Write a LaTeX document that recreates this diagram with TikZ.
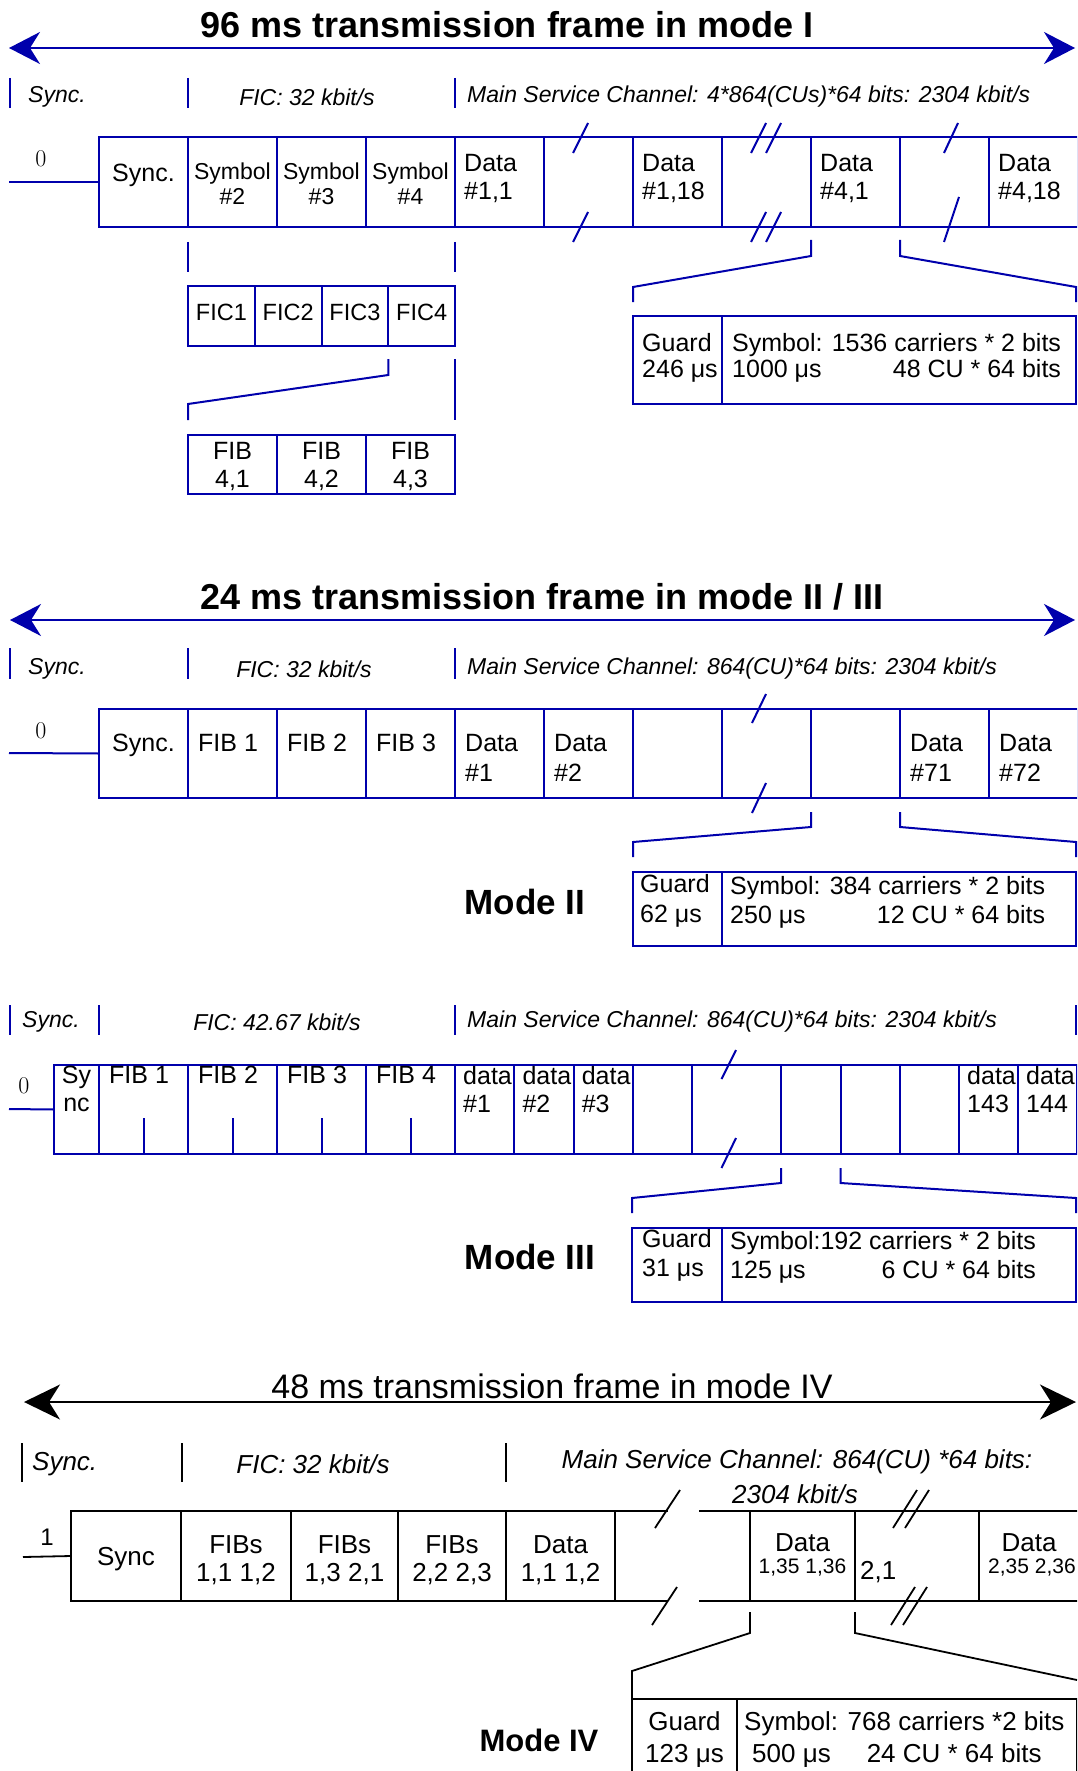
\documentclass[tikz,border=0pt]{standalone}
\usepackage{fontspec}
\newfontfamily\arialfont{Liberation Sans}
\usetikzlibrary{positioning,calc,arrows.meta}
\definecolor{dabblue}{RGB}{0,0,172}

\begin{document}
\begin{tikzpicture}[
    x=1pt, y=-1pt,
    blue_line/.style={draw=dabblue,line width=2pt},
    black_line/.style={draw=black,line width=1.8pt},
    blue_tip/.style={arrows={Stealth[length=31pt,width=32pt,inset=10pt]-Stealth[length=31pt,width=32pt,inset=10pt]}},
    black_tip/.style={arrows={Stealth[length=36pt,width=35pt,inset=11pt]-Stealth[length=36pt,width=35pt,inset=11pt]}},
    cell_box/.style={rectangle,inner sep=0pt,outer sep=0pt,anchor=north west},
    cell_txt/.style={inner sep=0pt,align=left,font=\arialfont\fontsize{25}{28}\selectfont},
    sym_txt/.style={inner sep=0pt,align=center,font=\arialfont\fontsize{23}{25}\selectfont},
    big_txt/.style={inner sep=0pt,align=center,font=\arialfont\fontsize{26}{28}\selectfont},
    small_txt/.style={inner sep=0pt,font=\arialfont\fontsize{21}{24}\selectfont},
    ital_txt/.style={inner sep=0pt,font=\arialfont\itshape\fontsize{23}{26}\selectfont},
    ital_big/.style={inner sep=0pt,font=\arialfont\itshape\fontsize{26}{30}\selectfont},
    title_txt/.style={inner sep=0pt,anchor=base,font=\arialfont\bfseries\fontsize{36}{40}\selectfont},
    mode_txt/.style={inner sep=0pt,font=\arialfont\bfseries\fontsize{35}{40}\selectfont},
    zero_txt/.style={inner sep=0pt,font=\fontsize{24}{28}\selectfont}
]
\useasboundingbox (0,0) rectangle (1077,1771);
\clip (0,0) rectangle (1077,1771);

% ===== Mode I =====
\node[title_txt] (title_one) at (507,38) {96 ms transmission frame in mode I};
\coordinate (one_l) at (9,48);
\coordinate (one_r) at (1075,48);
\draw[blue_line,blue_tip] (one_l) -- (one_r);

% rates
\foreach \x in {10,188,455}
    \draw[blue_line] (\x,78) -- (\x,108);
\node[ital_txt,anchor=west] (sync_one) at (28,97) {Sync.};
\node[ital_txt] (fic_one) at (307,97) {FIC: 32 kbit/s};
\node[ital_txt,anchor=west] (msc_one) at (467,97) {Main Service Channel: 4*864(CUs)*64 bits: 2304 kbit/s};

% frame
\node[zero_txt] (zero_one) at (41,159) {0};
\foreach \i in {0,...,10}
    \node[cell_box,blue_line,minimum width=89pt,minimum height=90pt] (a\i) at ({99+89*\i},137) {};
\coordinate (start_one) at (9,182);
\draw[blue_line] (start_one) -- (a0.west);
\node[cell_txt,anchor=north] (la0) at ([yshift=-27pt]a0.north) {Sync.};
\foreach \i/\num in {1/2,2/3,3/4}
    \node[sym_txt,anchor=north] (la\i) at ([yshift=-26pt]a\i.north) {Symbol\\\#\num};
\foreach \i/\num in {4/{1,1},6/{1,18},8/{4,1},10/{4,18}}
    \node[cell_txt,anchor=north west] (la\i) at ([xshift=9pt,yshift=-17pt]a\i.north west) {Data\\\#\num};

% breaks
\draw[blue_line] (573,153) -- (588,123) (573,242) -- (588,212);
\draw[blue_line] (751,153) -- (766,123) (766,153) -- (781,123);
\draw[blue_line] (751,242) -- (766,212) (766,242) -- (781,212);
\draw[blue_line] (944,153) -- (958,123) (944,242) -- (959,197);

% FIC and FIB
\foreach \i in {1,...,4} {
    \node[cell_box,blue_line,minimum width=66.75pt,minimum height=60pt] (fic\i) at ({188+66.75*(\i-1)},286) {};
    \node[inner sep=0pt,font=\arialfont\fontsize{23.5}{26}\selectfont] (lfic\i) at ([yshift=4pt]fic\i.center) {FIC\i};
}
\draw[blue_line] ([yshift=-15pt]a1.south west) -- ([yshift=14pt]fic1.north west);
\draw[blue_line] ([yshift=-15pt]a4.south west) -- ([yshift=14pt]fic4.north east);
\foreach \i in {1,2,3} {
    \node[cell_box,blue_line,minimum width=89pt,minimum height=59pt] (fib\i) at ({188+89*(\i-1)},435) {};
    \node[cell_txt,align=center] (lfib\i) at ([yshift=-2pt]fib\i.center) {FIB\\4,\i};
}
\draw[blue_line] ([yshift=-13pt]fic4.south west) -- ++(0,16) -- ([yshift=31pt]fib1.north west) -- ([yshift=15pt]fib1.north west);
\draw[blue_line] ([yshift=-13pt]fic4.south east) -- ([yshift=15pt]fib3.north east);

% symbol detail
\node[cell_box,blue_line,minimum width=89pt,minimum height=88pt] (gd_one) at (633,316) {};
\node[cell_box,blue_line,minimum width=354pt,minimum height=88pt] (sy_one) at (722,316) {};
\node[cell_txt,anchor=north west,font=\arialfont\fontsize{25}{26}\selectfont] (lgd_one) at ([xshift=9pt,yshift=-17pt]gd_one.north west) {Guard\\246 μs};
\node[cell_txt,anchor=north west,font=\arialfont\fontsize{25}{26}\selectfont] (lsy_one) at ([xshift=10pt,yshift=-17pt]sy_one.north west)
    {\begin{tabular}{@{}l@{}}Symbol: 1536 carriers * 2 bits\\1000 μs\hfill 48 CU * 64 bits\end{tabular}};
\draw[blue_line] ([yshift=-13pt]a8.south west) -- ++(0,16) -- ([yshift=29pt]gd_one.north west) -- ([yshift=14pt]gd_one.north west);
\draw[blue_line] ([yshift=-13pt]a9.south west) -- ++(0,16) -- ([yshift=29pt]sy_one.north east) -- ([yshift=14pt]sy_one.north east);

% ===== Mode II =====
\node[title_txt] (title_two) at (542,609) {24 ms transmission frame in mode II / III};
\coordinate (two_l) at (10,620);
\coordinate (two_r) at (1075,620);
\draw[blue_line,blue_tip] (two_l) -- (two_r);
\foreach \x in {10,188,455}
    \draw[blue_line] (\x,648) -- (\x,679);
\node[ital_txt,anchor=west] (sync_two) at (28,669) {Sync.};
\node[ital_txt] (fic_two) at (304,669) {FIC: 32 kbit/s};
\node[ital_txt,anchor=west] (msc_two) at (467,669) {Main Service Channel: 864(CU)*64 bits: 2304 kbit/s};

\node[zero_txt] (zero_two) at (41,731) {0};
\foreach \i in {0,...,10}
    \node[cell_box,blue_line,minimum width=89pt,minimum height=89pt] (b\i) at ({99+89*\i},709) {};
\coordinate (start_two) at (9,753);
\draw[blue_line] (start_two) -- (b0.west);
\node[cell_txt,anchor=north] (lb0) at ([yshift=-25pt]b0.north) {Sync.};
\foreach \i in {1,2,3}
    \node[cell_txt,anchor=north west] (lb\i) at ([xshift=10pt,yshift=-25pt]b\i.north west) {FIB \i};
\foreach \i/\num in {4/1,5/2,9/71,10/72}
    \node[cell_txt,anchor=north west,font=\arialfont\fontsize{25}{30}\selectfont] (lb\i) at ([xshift=10pt,yshift=-25pt]b\i.north west) {Data\\\#\num};
\draw[blue_line] (752,723) -- (766,694) (752,813) -- (766,783);

\node[cell_box,blue_line,minimum width=89pt,minimum height=74pt] (gd_two) at (633,872) {};
\node[cell_box,blue_line,minimum width=354pt,minimum height=74pt] (sy_two) at (722,872) {};
\node[cell_txt,anchor=north west,font=\arialfont\fontsize{25}{30}\selectfont] (lgd_two) at ([xshift=7pt,yshift=-2pt]gd_two.north west) {Guard\\62 μs};
\node[cell_txt,anchor=north west,font=\arialfont\fontsize{25}{29}\selectfont] (lsy_two) at ([xshift=8pt,yshift=-2pt]sy_two.north west)
    {\begin{tabular}{@{}l@{}}Symbol: 384 carriers * 2 bits\\250 μs\hfill 12 CU * 64 bits\end{tabular}};
\draw[blue_line] ([yshift=-14pt]b8.south west) -- ++(0,15) -- ([yshift=30pt]gd_two.north west) -- ([yshift=15pt]gd_two.north west);
\draw[blue_line] ([yshift=-14pt]b9.south west) -- ++(0,15) -- ([yshift=30pt]sy_two.north east) -- ([yshift=15pt]sy_two.north east);
\node[mode_txt] (mode_two) at (525,902) {Mode II};

% ===== Mode III =====
\foreach \x in {10,99,455,1076}
    \draw[blue_line] (\x,1005) -- (\x,1035);
\node[ital_txt,anchor=west] (sync_three) at (22,1022) {Sync.};
\node[ital_txt] (fic_three) at (277,1022) {FIC: 42.67 kbit/s};
\node[ital_txt,anchor=west] (msc_three) at (467,1022) {Main Service Channel: 864(CU)*64 bits: 2304 kbit/s};

\node[zero_txt] (zero_three) at (24,1086) {0};
\foreach \i/\xl/\w in {0/54/45,1/99/89,2/188/89,3/277/89,4/366/89,5/455/59.3,6/514.3/59.3,7/573.6/59.4,
                      8/633/59,9/692/89,10/781/59.5,11/840.5/59.5,12/900/59,13/959/59,14/1018/59.3}
    \node[cell_box,blue_line,minimum width=\w pt,minimum height=89pt] (c\i) at (\xl,1065) {};
\coordinate (start_three) at (9,1109);
\draw[blue_line] (start_three) -- (c0.west);
\node[cell_txt,align=center,anchor=north] (lc0) at ([yshift=-1pt]c0.north) {Sy\\nc};
\foreach \i in {1,...,4} {
    \node[cell_txt,anchor=north west] (lc\i) at ([xshift=10pt,yshift=-1pt]c\i.north west) {FIB \i};
    \draw[blue_line] (c\i.south) -- ++(0,-36);
}
\foreach \i/\num in {5/\#1,6/\#2,7/\#3,13/143,14/144}
    \node[cell_txt,anchor=north west] (lc\i) at ([xshift=8pt,yshift=-1pt]c\i.north west) {data\\\num};
\draw[blue_line] (721.5,1079) -- (736,1050) (721.5,1168) -- (736,1138);

\node[cell_box,blue_line,minimum width=90pt,minimum height=74pt] (gd_three) at (632,1228) {};
\node[cell_box,blue_line,minimum width=354pt,minimum height=74pt] (sy_three) at (722,1228) {};
\node[cell_txt,anchor=north west,font=\arialfont\fontsize{25}{29}\selectfont] (lgd_three) at ([xshift=10pt,yshift=-1pt]gd_three.north west) {Guard\\31 μs};
\node[cell_txt,anchor=north west,font=\arialfont\fontsize{25}{29}\selectfont] (lsy_three) at ([xshift=8pt,yshift=-1pt]sy_three.north west)
    {\begin{tabular}{@{}l@{}}Symbol:192 carriers * 2 bits\\125 μs\hfill 6 CU * 64 bits\end{tabular}};
\draw[blue_line] ([yshift=-14pt]c10.south west) -- ++(0,15) -- ([yshift=30pt]gd_three.north west) -- ([yshift=15pt]gd_three.north west);
\draw[blue_line] ([yshift=-14pt]c11.south west) -- ++(0,15) -- ([yshift=30pt]sy_three.north east) -- ([yshift=15pt]sy_three.north east);
\node[mode_txt] (mode_three) at (530,1257) {Mode III};

% ===== Mode IV =====
\node[inner sep=0pt,anchor=base,font=\arialfont\fontsize{34}{38}\selectfont] (title_four) at (552,1398) {48 ms transmission frame in mode IV};
\coordinate (four_l) at (24,1402);
\coordinate (four_r) at (1076,1402);
\draw[black_line,black_tip] (four_l) -- (four_r);
\foreach \x in {22,182,506}
    \draw[black_line] (\x,1443) -- (\x,1482);
\node[ital_big,anchor=west] (sync_four) at (32,1464) {Sync.};
\node[ital_big] (fic_four) at (313,1464) {FIC: 32 kbit/s};
\node[ital_big] (msc_four) at (797,1462) {Main Service Channel: 864(CU) *64 bits:};
\node[ital_big] (rate_four) at (795,1494) {2304 kbit/s};

\node[inner sep=0pt,font=\arialfont\fontsize{24}{28}\selectfont] (one_four) at (47,1537) {1};
\foreach \i/\xl/\w in {0/71/110,1/181/110,2/291/107,3/398/108,4/506/109}
    \node[cell_box,black_line,minimum width=\w pt,minimum height=90pt] (d\i) at (\xl,1511) {};
\foreach \i/\xl/\w in {0/750/105,1/855/124,2/979/104}
    \node[cell_box,black_line,minimum width=\w pt,minimum height=90pt] (e\i) at (\xl,1511) {};
\coordinate (start_four) at (23,1557);
\draw[black_line] (start_four) -- (d0.west);
\draw[black_line] (d4.north east) -- ++(53,0) (d4.south east) -- ++(53,0);
\draw[black_line] (e0.north west) -- ++(-51,0) (e0.south west) -- ++(-51,0);
\node[big_txt] (ld0) at ([yshift=-3pt]d0.center) {Sync};
\foreach \i/\lbl in {1/{1,1 1,2},2/{1,3 2,1},3/{2,2 2,3}}
    \node[big_txt,anchor=north] (ld\i) at ([yshift=-24pt]d\i.north) {FIBs\\\lbl};
\node[big_txt,anchor=north] (ld4) at ([yshift=-24pt]d4.north) {Data\\1,1 1,2};
\node[big_txt,anchor=north] (le0) at ([yshift=-22pt]e0.north) {Data};
\node[small_txt] (le0b) at ([yshift=-11pt]e0.center) {1,35 1,36};
\node[big_txt,anchor=west] (le1) at ([xshift=5pt,yshift=-16pt]e1.west) {2,1};
\node[big_txt,anchor=north] (le2) at ([xshift=-2pt,yshift=-22pt]e2.north) {Data};
\node[small_txt] (le2b) at ([xshift=1pt,yshift=-11pt]e2.center) {2,35 2,36};
\draw[black_line] (655,1528) -- (680,1490) (652,1625) -- (677,1587);
\draw[black_line] (893,1528) -- (917,1490) (905,1528) -- (929,1490);
\draw[black_line] (891,1625) -- (915,1587) (903,1625) -- (927,1587);

\node[cell_box,black_line,minimum width=105pt,minimum height=90pt] (gd_four) at (632,1699) {};
\node[cell_box,black_line,minimum width=340pt,minimum height=90pt] (sy_four) at (737,1699) {};
\node[big_txt,anchor=north,font=\arialfont\fontsize{26}{32}\selectfont] (lgd_four) at ([yshift=-12pt]gd_four.north) {Guard\\123 μs};
\node[cell_txt,anchor=north west,font=\arialfont\fontsize{26}{32}\selectfont] (lsy_four) at ([xshift=7pt,yshift=-12pt]sy_four.north west)
    {Symbol: 768 carriers *2 bits\\\hspace*{8pt}500 μs\hspace*{36pt}24 CU * 64 bits};
\draw[black_line] ([yshift=-11pt]e0.south west) -- ++(0,21) -- ([yshift=28pt]gd_four.north west) -- (gd_four.north west);
\draw[black_line] ([yshift=-11pt]e1.south west) -- ++(0,21) -- ([yshift=19pt]sy_four.north east);
\node[inner sep=0pt,font=\arialfont\bfseries\fontsize{31}{36}\selectfont] (mode_four) at (539,1740) {Mode IV};

\end{tikzpicture}
\end{document}
